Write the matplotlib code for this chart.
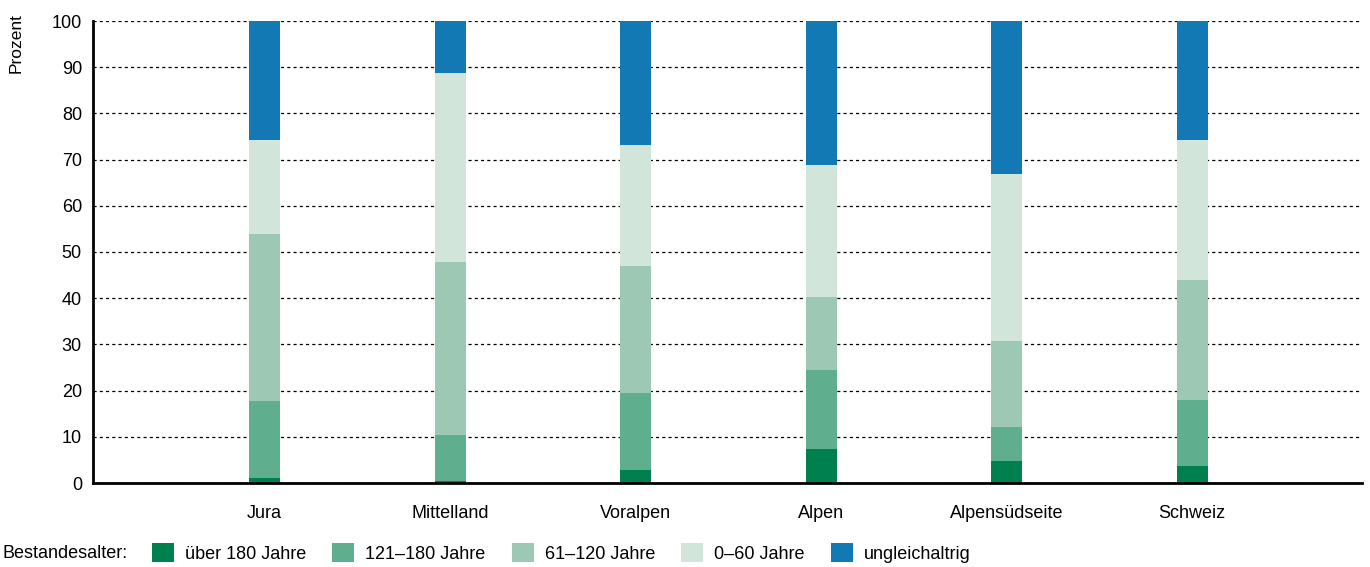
import matplotlib
matplotlib.use("Agg")
import matplotlib.pyplot as plt
from matplotlib.patches import Patch
import numpy as np

plt.rcParams["font.family"] = ["Liberation Sans", "DejaVu Sans"]

regions = ["Jura", "Mittelland", "Voralpen", "Alpen", "Alpensüdseite", "Schweiz"]
age_classes = ["über 180 Jahre", "121–180 Jahre", "61–120 Jahre", "0–60 Jahre", "ungleichaltrig"]
colors = ["#00804e", "#5fae8d", "#9dc8b3", "#d1e5da", "#1279b4"]

ueber_180 = [1.1, 0.4, 2.8, 7.4, 4.8, 3.7]
j121_180 = [16.6, 10.0, 16.7, 17.1, 7.3, 14.3]
j61_120 = [36.2, 37.4, 27.5, 15.8, 18.6, 25.9]
j0_60 = [20.3, 40.9, 26.2, 28.5, 36.2, 30.3]
ungleichaltrig = [25.8, 11.3, 26.8, 31.2, 33.1, 25.8]

series = [ueber_180, j121_180, j61_120, j0_60, ungleichaltrig]

fig = plt.figure(figsize=(13.7, 5.67), dpi=100)
ax = fig.add_axes([93 / 1370, 1 - 483 / 567, (1362 - 93) / 1370, 462 / 567])

x = np.arange(len(regions))
bottom = np.zeros(len(regions))
for vals, col, lab in zip(series, colors, age_classes):
    ax.bar(x, vals, width=0.167, bottom=bottom, color=col, label=lab, zorder=3)
    bottom += np.array(vals)

ax.set_xlim(-0.925, 5.915)
ax.set_ylim(0, 100)
ax.set_yticks(range(0, 101, 10))
ax.set_xticks(x)
ax.set_xticklabels(regions)
ax.tick_params(axis="both", length=0, labelsize=13)
ax.tick_params(axis="x", pad=16)
ax.tick_params(axis="y", pad=8)
ax.yaxis.grid(True, color="black", linestyle=(0, (2.5, 2.5)), linewidth=0.9, zorder=0)
ax.xaxis.grid(False)
for s in ["top", "right"]:
    ax.spines[s].set_visible(False)
for s in ["left", "bottom"]:
    ax.spines[s].set_linewidth(2)
    ax.spines[s].set_zorder(4)

fig.text(16 / 1370, 1 - 13 / 567, "Prozent", rotation=90, ha="center", va="top", fontsize=12.5)

fig.text(2 / 1370, 1 - 553 / 567, "Bestandesalter:", ha="left", va="center", fontsize=13)
handles = [Patch(facecolor=c, edgecolor="none") for c in colors]
fig.legend(handles, age_classes, loc="center left", bbox_to_anchor=(152 / 1370, 1 - 553 / 567),
           ncol=5, frameon=False, fontsize=13, handlelength=1.22, handleheight=1.22,
           handletextpad=0.61, columnspacing=1.44, borderpad=0, borderaxespad=0)

fig.savefig("out.png", dpi=100)
